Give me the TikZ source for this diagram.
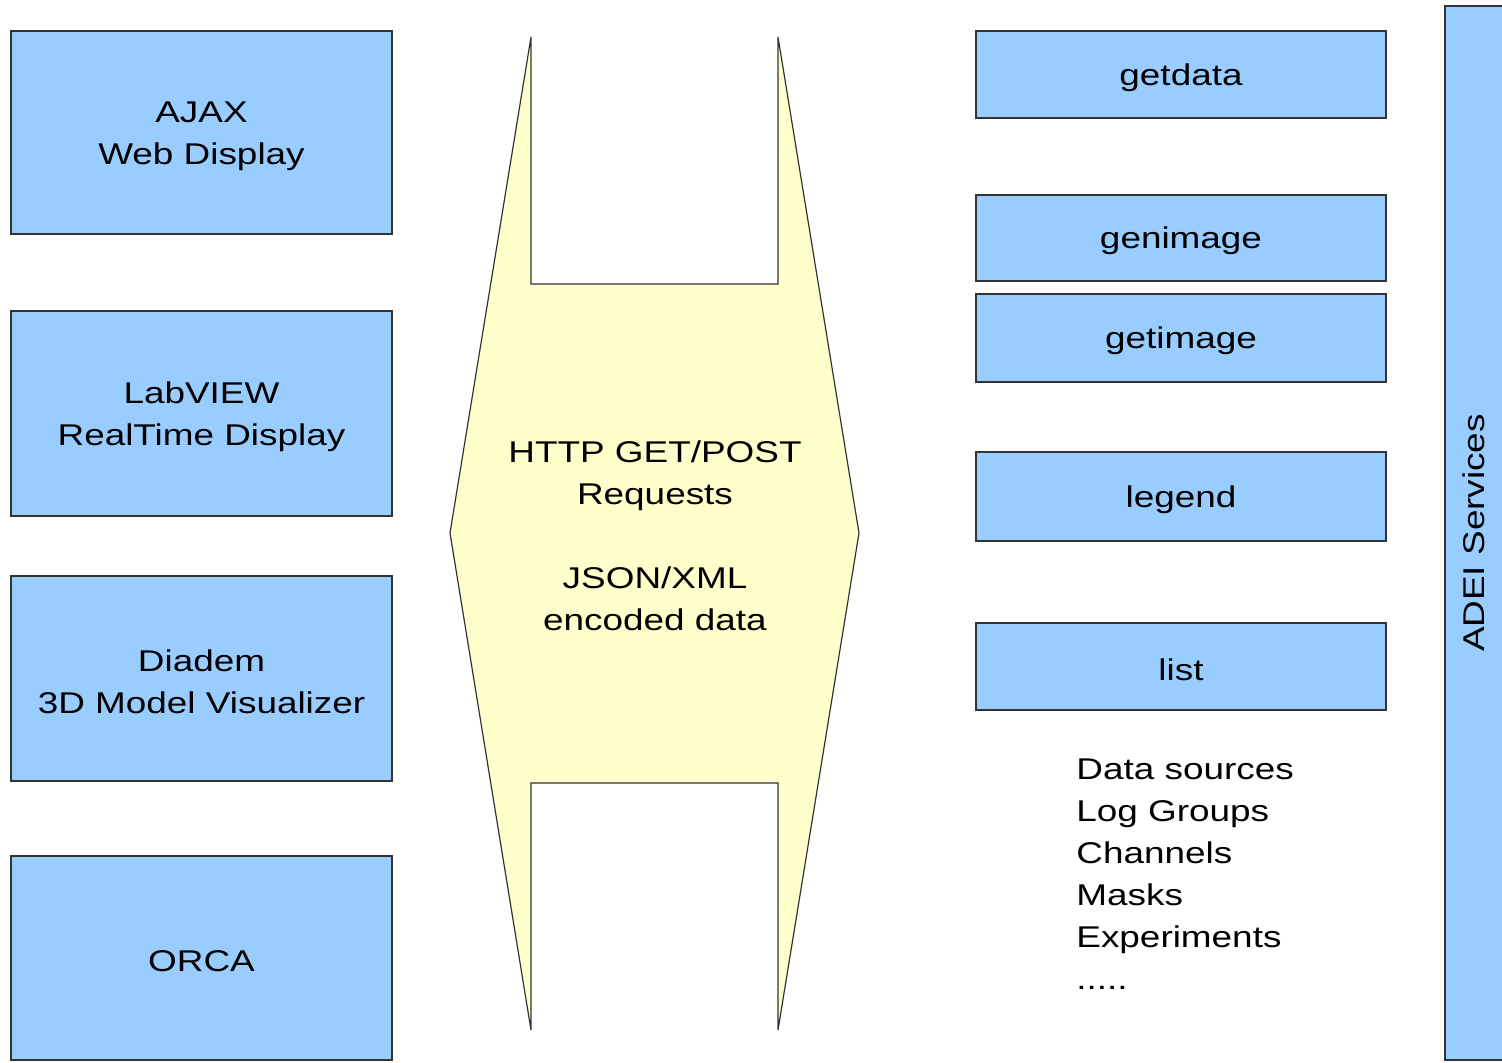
\documentclass[tikz,border=0pt]{standalone}
\usepackage{fontspec}
\setmainfont[FakeStretch=1.23]{Liberation Sans}
\definecolor{boxblue}{HTML}{99CCFF}
\definecolor{pipeyellow}{HTML}{FFFFCC}
\definecolor{edgegray}{HTML}{333333}
\newcommand\topfix{\rule{0pt}{13.9pt}}
\tikzset{
  blockbox/.style={draw=edgegray, line width=0.75pt, fill=boxblue, rectangle, inner sep=0pt, align=center, font=\fontsize{15}{21}\selectfont},
  leftbox/.style={blockbox, minimum width=190.5pt},
  rightbox/.style={blockbox, minimum width=205pt},
  plaintext/.style={inner sep=0pt, font=\fontsize{15}{21}\selectfont}
}
\begin{document}
\begin{tikzpicture}[x=0.5pt,y=-0.5pt]
\useasboundingbox (0,0) rectangle (1502,1062);
% left clients
\node[leftbox, minimum height=101.5pt] (ajax) at (201.5,132.5) {\topfix AJAX\\Web Display};
\node[leftbox, minimum height=102.5pt] (labview) at (201.5,413.5) {\topfix LabVIEW\\RealTime Display};
\node[leftbox, minimum height=102.5pt] (diadem) at (201.5,678.5) {\topfix Diadem\\3D Model Visualizer};
\node[leftbox, minimum height=102pt] (orca) at (201.5,958) {\topfix ORCA};
% central pipe
\draw[draw=edgegray, line width=0.6pt, fill=pipeyellow, line join=miter]
  (531,37) -- (531,284) -- (778,284) -- (778,37) -- (859,533) -- (778,1030)
  -- (778,783) -- (531,783) -- (531,1030) -- (450,533) -- cycle;
\node[plaintext, align=center] (http) at (655,536) {HTTP GET/POST\\Requests\\[21pt]JSON/XML\\encoded data};
% right services
\node[rightbox, minimum height=43.5pt] (getdata) at (1181,74.5) {\topfix getdata};
\node[rightbox, minimum height=43pt] (genimage) at (1181,238) {\topfix genimage};
\node[rightbox, minimum height=44pt] (getimage) at (1181,338) {\topfix getimage};
\node[rightbox, minimum height=44.5pt] (legend) at (1181,496.5) {\topfix legend};
\node[rightbox, minimum height=43.5pt] (list) at (1181,666.5) {\topfix list};
\node[plaintext, align=left, anchor=north west] (listitems) at (1076,758) {Data sources\\Log Groups\\Channels\\Masks\\Experiments\\.....};
% ADEI services bar
\draw[draw=edgegray, line width=0.75pt, fill=boxblue] (1445,6) rectangle (1520,1060);
\node[plaintext, rotate=90] (adei) at (1474,533) {ADEI Services};
\end{tikzpicture}
\end{document}
